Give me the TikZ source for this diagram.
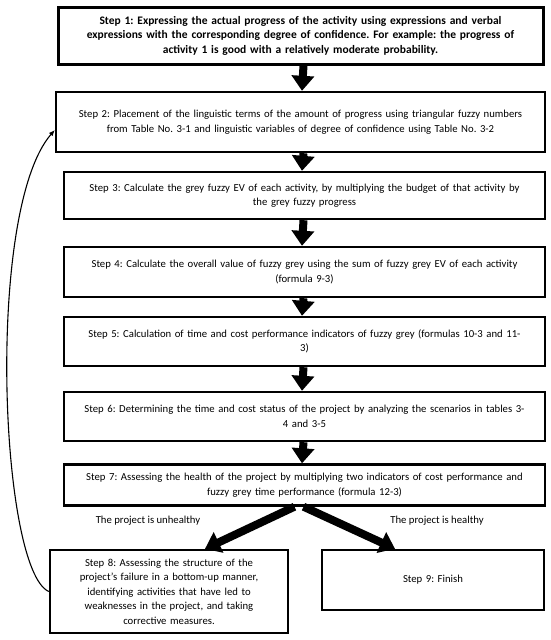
\documentclass[tikz,border=0pt]{standalone}
\usepackage{fontspec}
\setmainfont{Carlito}
\usetikzlibrary{arrows.meta}
\frenchspacing
\begin{document}
\begin{tikzpicture}
    [x=1pt,y=-1pt,line join=miter,
    % Styles
    stepbox/.style={draw,line width=2.4pt,inner sep=0pt,align=center,
      font=\fontsize{10.7}{14.5}\selectfont},
    flow arrow/.style={line width=8pt,-{Triangle[width=22pt,length=15pt]}},
    branch text/.style={font=\fontsize{10.7}{14.5}\selectfont},
    loop arrow/.style={line width=1.1pt,-{Latex[length=6pt,width=5pt]}}]
    \useasboundingbox (0,0) rectangle (550,640);
    % The steps
    \node[stepbox,line width=3pt,font=\fontsize{11.5}{14.5}\selectfont\bfseries,
      text width=485pt,minimum height=57pt] (step1) at (300.5,35.5)
      {Step 1: Expressing the actual progress of the activity using expressions and verbal\\
       expressions with the corresponding degree of confidence. For example: the progress of\\
       activity 1 is good with a relatively moderate probability.};
    \node[stepbox,text width=489pt,minimum height=60pt] (step2) at (300.5,122)
      {Step 2: Placement of the linguistic terms of the amount of progress using triangular fuzzy numbers\\
       from Table No. 3-1 and linguistic variables of degree of confidence using Table No. 3-2};
    \node[stepbox,text width=481pt,minimum height=47pt] (step3) at (304.5,195.5)
      {Step 3: Calculate the grey fuzzy EV of each activity, by multiplying the budget of that activity by\\
       the grey fuzzy progress};
    \node[stepbox,text width=481pt,minimum height=50pt] (step4) at (304.5,272)
      {Step 4: Calculate the overall value of fuzzy grey using the sum of fuzzy grey EV of each activity\\
       (formula 9-3)};
    \node[stepbox,text width=481pt,minimum height=49pt] (step5) at (304.5,341.5)
      {Step 5: Calculation of time and cost performance indicators of fuzzy grey (formulas 10-3 and 11-\\
       3)};
    \node[stepbox,text width=481pt,minimum height=49pt] (step6) at (304.5,416.5)
      {Step 6: Determining the time and cost status of the project by analyzing the scenarios in tables 3-\\
       4 and 3-5};
    \node[stepbox,text width=481pt,minimum height=41pt] (step7) at (304.5,485)
      {Step 7: Assessing the health of the project by multiplying two indicators of cost performance and\\
       fuzzy grey time performance (formula 12-3)};
    \node[stepbox,text width=238pt,minimum height=83pt] (step8) at (169,591.5)
      {Step 8: Assessing the structure of the\\
       project's failure in a bottom-up manner,\\
       identifying activities that have led to\\
       weaknesses in the project, and taking\\
       corrective measures.};
    \node[stepbox,text width=222pt,minimum height=60pt] (step9) at (433,580)
      {Step 9: Finish};
    % Branch texts
    \node[branch text] (unhealthy) at (148,521) {The project is unhealthy};
    \node[branch text] (healthy) at (437,521) {The project is healthy};
    % The arrows
    \foreach \a/\b in {step1/step2,step2/step3,step3/step4,step4/step5,step5/step6,step6/step7}
      \draw[flow arrow] ([xshift=1.5pt]\a.south -| 302,0) -- (\b.north -| 302,0);
    \draw[flow arrow] ([xshift=-10pt]step7.south) -- ([xshift=36pt]step8.north);
    \draw[flow arrow] ([xshift=-1pt]step7.south) -- ([xshift=-38pt]step9.north);
    \draw[loop arrow] (step8.west) .. controls (0,570) and (-15,210) .. ([yshift=-8pt]step2.west);
\end{tikzpicture}
\end{document}
